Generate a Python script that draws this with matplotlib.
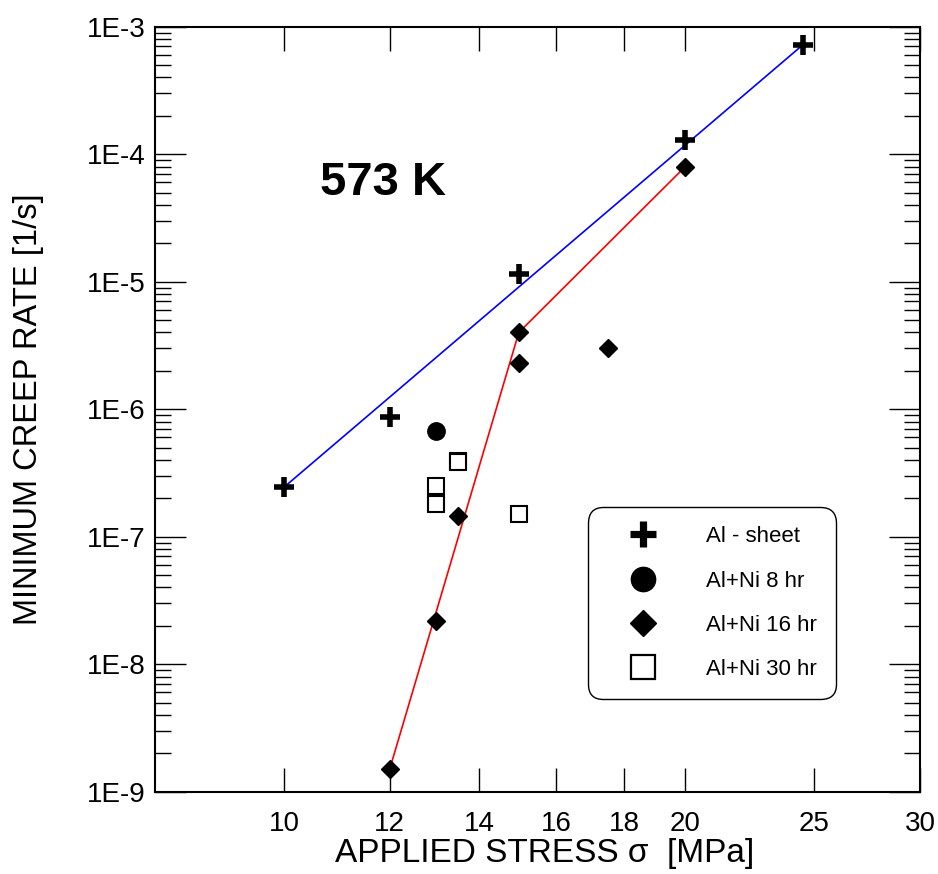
import matplotlib
matplotlib.use("Agg")
import matplotlib.pyplot as plt
from matplotlib.ticker import NullLocator, LogLocator, NullFormatter
from matplotlib.lines import Line2D

plt.rcParams['font.family'] = ['Liberation Sans', 'DejaVu Sans']

# ---- data ----
sheet_x = [10, 12, 15, 20, 24.5]
sheet_y = [2.45e-7, 8.7e-7, 1.15e-5, 1.3e-4, 7.2e-4]

ni8_x = [13]
ni8_y = [6.7e-7]

ni16_x = [12, 13, 13.5, 15, 15, 17.5, 20]
ni16_y = [1.5e-9, 2.2e-8, 1.45e-7, 4.0e-6, 2.3e-6, 3.0e-6, 8.0e-5]

ni30_x = [13, 13, 13.5, 13.5, 15]
ni30_y = [2.52e-7, 1.82e-7, 3.95e-7, 3.83e-7, 1.51e-7]

blue_fit_x = [10, 24.5]
blue_fit_y = [2.45e-7, 7.2e-4]

red_fit_x = [12, 15, 20]
red_fit_y = [1.5e-9, 4.0e-6, 8.0e-5]

x_ticks = [10, 12, 14, 16, 18, 20, 25, 30]
x_tick_labels = ['10', '12', '14', '16', '18', '20', '25', '30']
y_ticks = [1e-9, 1e-8, 1e-7, 1e-6, 1e-5, 1e-4, 1e-3]
y_tick_labels = ['1E-9', '1E-8', '1E-7', '1E-6', '1E-5', '1E-4', '1E-3']

labels = ['Al - sheet', 'Al+Ni 8 hr', 'Al+Ni 16 hr', 'Al+Ni 30 hr']

# ---- figure ----
fig = plt.figure(figsize=(9.38, 8.74), dpi=100)
ax = fig.add_axes([155/938, 1 - 791.7/874, 765/938, 765/874])
ax.set_xscale('log')
ax.set_yscale('log')
ax.set_xlim(8, 30)
ax.set_ylim(1e-9, 1e-3)

ax.plot(blue_fit_x, blue_fit_y, color='#0000ff', lw=1.2, zorder=2)
ax.plot(red_fit_x, red_fit_y, color='#ff0000', lw=1.2, zorder=2)

ax.plot(sheet_x, sheet_y, ls='none', marker='+', ms=14, mew=4.0,
        color='black', zorder=3)
ax.plot(ni8_x, ni8_y, ls='none', marker='o', ms=12.5, color='black', zorder=3)
ax.plot(ni16_x, ni16_y, ls='none', marker='D', ms=9.3, color='black', zorder=3)
ax.plot(ni30_x, ni30_y, ls='none', marker='s', ms=12, mfc='white',
        mec='black', mew=1.5, zorder=3)

# ticks
ax.set_xticks(x_ticks)
ax.set_xticklabels(x_tick_labels)
ax.xaxis.set_minor_locator(NullLocator())
ax.set_yticks(y_ticks)
ax.set_yticklabels(y_tick_labels)
ax.yaxis.set_minor_locator(LogLocator(base=10, subs=range(2, 10), numticks=50))
ax.yaxis.set_minor_formatter(NullFormatter())

ax.tick_params(axis='x', which='major', direction='in', top=True, bottom=True,
               length=17.3, width=1.0, labelsize=20, pad=14)
ax.tick_params(axis='y', which='major', direction='in', left=True, right=True,
               length=22.3, width=1.0, labelsize=20, pad=6.5)
ax.tick_params(axis='y', which='minor', direction='in', left=True, right=True,
               length=11.5, width=1.0)
for s in ax.spines.values():
    s.set_linewidth(1.5)

ax.set_xlabel('APPLIED STRESS \u03c3  [MPa]', fontsize=24)
ax.xaxis.set_label_coords((545 - 155) / 765, -(838 - 791.7) / 765)
ax.set_ylabel('MINIMUM CREEP RATE [1/s]', fontsize=23.5)
ax.yaxis.set_label_coords(-(155 - 44) / 765, 0.5)

ax.text(0.298, 0.796, '573 K', transform=ax.transAxes, fontsize=34,
        fontweight='bold', ha='center', va='center')

# legend
handles = [
    Line2D([], [], ls='none', marker='+', ms=19, mew=5.2, color='black'),
    Line2D([], [], ls='none', marker='o', ms=17.5, color='black'),
    Line2D([], [], ls='none', marker='D', ms=13.3, color='black'),
    Line2D([], [], ls='none', marker='s', ms=17.5, mfc='white', mec='black', mew=1.6),
]
leg = ax.legend(handles, labels, loc='upper left',
                bbox_to_anchor=((587.7 - 155) / 765, (791.7 - 507.3) / 765),
                borderaxespad=0, fontsize=16, frameon=True, fancybox=True,
                borderpad=0.85, handlelength=3.3, handletextpad=1.17,
                labelspacing=1.05, framealpha=1, edgecolor='black')
leg.get_frame().set_linewidth(1.0)
leg.get_frame().set_boxstyle('round', pad=0, rounding_size=0.7)

fig.savefig('out.png', dpi=100)
